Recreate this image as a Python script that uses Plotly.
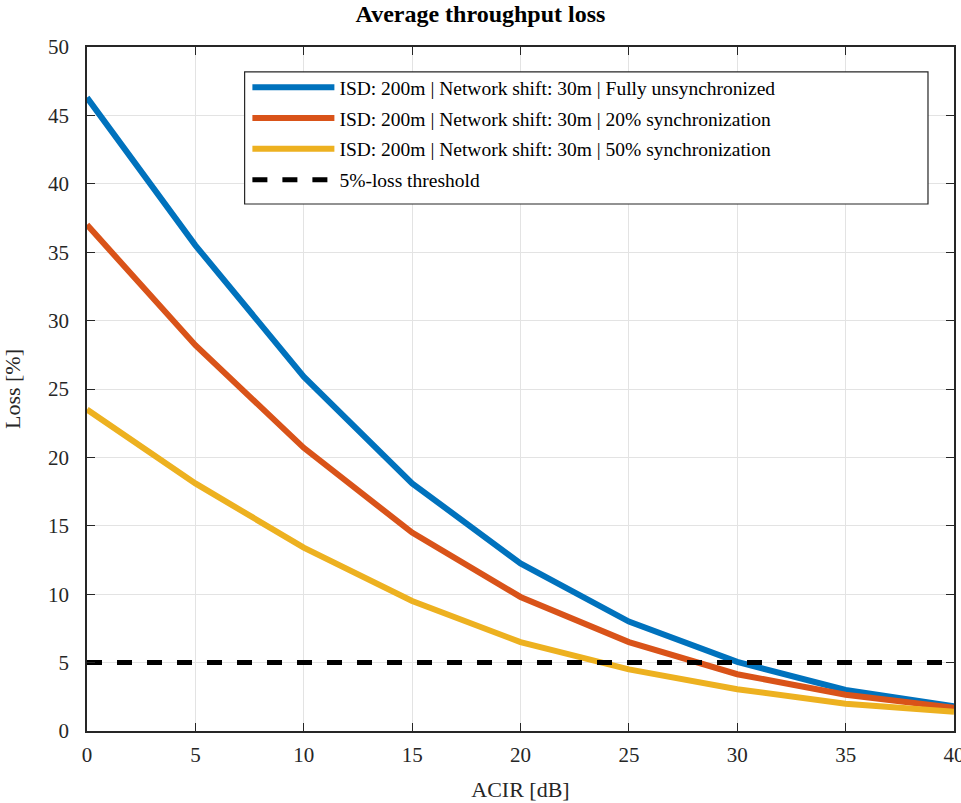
import plotly.graph_objects as go

acir = [0, 5, 10, 15, 20, 25, 30, 35, 40]
loss_unsync = [46.3, 35.5, 25.9, 18.1, 12.25, 8.0, 5.05, 3.0, 1.8]
loss_sync20 = [37.0, 28.2, 20.7, 14.5, 9.8, 6.5, 4.15, 2.65, 1.7]
loss_sync50 = [23.5, 18.1, 13.4, 9.5, 6.5, 4.5, 3.05, 2.0, 1.4]
threshold = 5
xticks = [0, 5, 10, 15, 20, 25, 30, 35, 40]
yticks = [0, 5, 10, 15, 20, 25, 30, 35, 40, 45, 50]

names = [
    "ISD: 200m | Network shift: 30m | Fully unsynchronized",
    "ISD: 200m | Network shift: 30m | 20% synchronization",
    "ISD: 200m | Network shift: 30m | 50% synchronization",
    "5%-loss threshold",
]
colors = ["#0072BD", "#D95319", "#EDB120"]

fig = go.Figure()
for i, (ys, nm, c) in enumerate(zip([loss_unsync, loss_sync20, loss_sync50], names[:3], colors)):
    fig.add_trace(go.Scatter(x=acir, y=ys, mode="lines", name=nm, legendgroup=f"g{i}",
                             line=dict(color=c, width=6)))
fig.add_trace(go.Scatter(x=[acir[0], acir[-1]], y=[threshold, threshold], mode="lines",
                         name=names[3], legendgroup="g3",
                         line=dict(color="black", width=5, dash="dash")))

font = "Liberation Serif"
axis_common = dict(showgrid=True, gridcolor="#E3E3E3", gridwidth=1, zeroline=False,
                   showline=True, linecolor="#262626", linewidth=1.5, mirror="ticks",
                   ticks="inside", ticklen=8, tickcolor="#262626",
                   ticklabeloverflow="allow", automargin=False,
                   tickfont=dict(family=font, size=21, color="#262626"))

fig.update_layout(
    width=961, height=803,
    margin=dict(l=87, r=7, t=47, b=72, autoexpand=False),
    paper_bgcolor="white", plot_bgcolor="white",
    title=dict(text="<b>Average throughput loss</b>", x=0.5, xanchor="center",
               y=0.983, yanchor="middle",
               font=dict(family=font, size=24, color="black")),
    xaxis=dict(range=[0, 40], tickvals=xticks,
               title=dict(text="ACIR [dB]", font=dict(family=font, size=22, color="#262626"),
                          standoff=16),
               ticklabelstandoff=4,
               **axis_common),
    yaxis=dict(range=[0, 50], tickvals=yticks,
               title=dict(text="Loss [%]", font=dict(family=font, size=22, color="#262626"),
                          standoff=22),
               ticklabelstandoff=12,
               **axis_common),
    legend=dict(x=0.185, xanchor="left", y=0.9693, yanchor="top",
                bgcolor="rgba(0,0,0,0)", borderwidth=0,
                font=dict(family=font, size=19.5, color="black"),
                itemwidth=82, tracegroupgap=2.5),
    shapes=[dict(type="rect", xref="paper", yref="paper",
                 x0=0.1818, x1=0.970, y0=0.7705, y1=0.9635,
                 line=dict(color="#262626", width=1.2), fillcolor="white", layer="above")],
    showlegend=True,
)

fig.write_html("out.html", config={"displayModeBar": False},
               post_script="document.body.style.margin='0';")
